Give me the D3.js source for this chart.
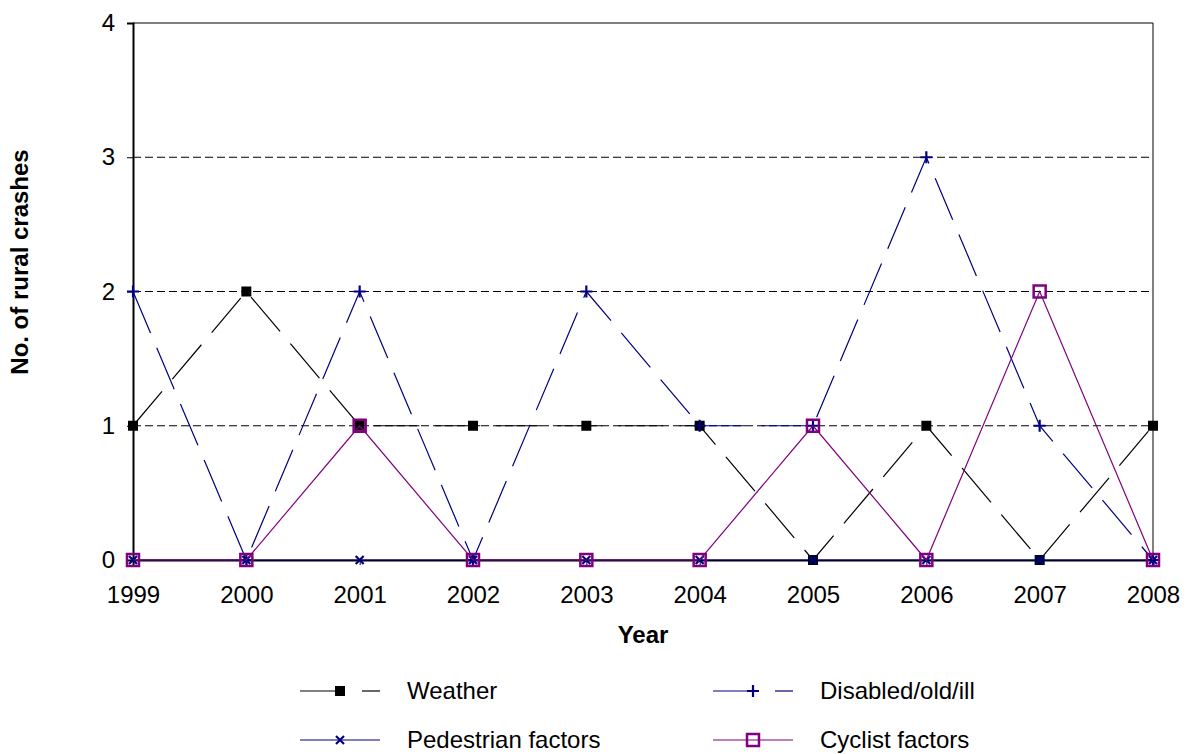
<!DOCTYPE html>
<html><head><meta charset="utf-8">
<script src="https://cdn.jsdelivr.net/npm/d3@7/dist/d3.min.js"></script>
<style>body{margin:0;background:#fff;}svg{display:block;font-family:Arial,"Liberation Sans",sans-serif;}</style>
</head><body><svg id="c" width="1187" height="754"></svg>
<script>
const years = ["1999","2000","2001","2002","2003","2004","2005","2006","2007","2008"];
const weather = [1,2,1,1,1,1,0,1,0,1];
const disabled = [2,0,2,0,2,1,1,3,1,0];
const pedestrian = [0,0,0,0,0,0,0,0,0,0];
const cyclist = [0,0,1,0,0,0,1,0,2,0];
const yTicks = [0,1,2,3,4];

const FS = 24;
const svg = d3.select("#c");
const L=133,R=1153,T=23,B=560;
const x = d3.scalePoint().domain(years).range([L,R]);
const y = d3.scaleLinear().domain([0,4]).range([B,T]);

// gridlines
svg.append("g").selectAll("line").data(yTicks.filter(d=>d>0&&d<4)).join("line")
  .attr("x1",L).attr("x2",R).attr("y1",d=>y(d)).attr("y2",d=>y(d))
  .attr("stroke","#000").attr("stroke-width",1).attr("stroke-dasharray","8,4");
// box
svg.append("line").attr("x1",L).attr("x2",R).attr("y1",T).attr("y2",T).attr("stroke","#000");
svg.append("line").attr("x1",R).attr("x2",R).attr("y1",T).attr("y2",B).attr("stroke","#000");

// axes
const yAxis = svg.append("g").attr("transform",`translate(${L},0)`)
  .call(d3.axisLeft(y).tickValues(yTicks).tickFormat(d3.format("d")).tickSize(6).tickPadding(12));
const xAxis = svg.append("g").attr("transform",`translate(0,${B})`)
  .call(d3.axisBottom(x).tickSize(5).tickPadding(21));
[yAxis,xAxis].forEach(a=>{
  a.select(".domain").attr("stroke","#000").attr("stroke-width",2);
  a.selectAll(".tick line").attr("stroke","#000");
  a.selectAll("text").attr("font-size",FS).attr("fill","#000").style("font-family","Arial, 'Liberation Sans', sans-serif");
});

svg.append("text").attr("x",643).attr("y",643).attr("text-anchor","middle")
  .attr("font-size",FS).attr("font-weight","bold").text("Year");
svg.append("text").attr("transform","translate(28,262) rotate(-90)").attr("text-anchor","middle")
  .attr("font-size",FS).attr("font-weight","bold").text("No. of rural crashes");

const series = [
  {name:"Weather",vals:weather,color:"#000",dash:"45,16",marker:"fsq"},
  {name:"Disabled/old/ill",vals:disabled,color:"#000080",dash:"45,16",marker:"plus"},
  {name:"Pedestrian factors",vals:pedestrian,color:"#000080",dash:null,marker:"x"},
  {name:"Cyclist factors",vals:cyclist,color:"#800080",dash:null,marker:"osq"}
];
const line = d3.line().x((d,i)=>x(years[i])).y(d=>y(d));

function drawMarker(g,type,cx,cy,color){
  if(type==="fsq") g.append("rect").attr("x",cx-5).attr("y",cy-5).attr("width",10).attr("height",10).attr("fill","#000");
  else if(type==="plus"){
    g.append("path").attr("d",`M${cx-6},${cy}H${cx+6}M${cx},${cy-6}V${cy+6}`).attr("stroke",color).attr("stroke-width",2.2).attr("fill","none");
  } else if(type==="x"){
    g.append("path").attr("d",`M${cx-4},${cy-4}L${cx+4},${cy+4}M${cx-4},${cy+4}L${cx+4},${cy-4}`).attr("stroke",color).attr("stroke-width",2.2).attr("fill","none");
  } else if(type==="osq"){
    g.append("rect").attr("x",cx-6).attr("y",cy-6).attr("width",12).attr("height",12).attr("fill","none").attr("stroke",color).attr("stroke-width",2.5);
  }
}

series.forEach(s=>{
  const g = svg.append("g");
  g.append("path").datum(s.vals).attr("d",line).attr("fill","none")
    .attr("stroke",s.color).attr("stroke-width",1.2)
    .attr("stroke-dasharray",s.dash);
  s.vals.forEach((v,i)=>drawMarker(g,s.marker,x(years[i]),y(v),s.color));
});

// legend
const leg = [
  {s:series[0],lx:300,ly:691},
  {s:series[1],lx:713,ly:691},
  {s:series[2],lx:300,ly:740},
  {s:series[3],lx:713,ly:740}
];
leg.forEach(o=>{
  const g=svg.append("g");
  if(o.s.dash){
    g.append("line").attr("x1",o.lx).attr("x2",o.lx+45).attr("y1",o.ly).attr("y2",o.ly).attr("stroke",o.s.color).attr("stroke-width",1.2);
    g.append("line").attr("x1",o.lx+62).attr("x2",o.lx+80).attr("y1",o.ly).attr("y2",o.ly).attr("stroke",o.s.color).attr("stroke-width",1.2);
  } else {
    g.append("line").attr("x1",o.lx).attr("x2",o.lx+80).attr("y1",o.ly).attr("y2",o.ly).attr("stroke",o.s.color).attr("stroke-width",1.2);
  }
  drawMarker(g,o.s.marker,o.lx+40,o.ly,o.s.color);
  g.append("text").attr("x",o.lx+107).attr("y",o.ly+8).attr("font-size",FS).text(o.s.name);
});
</script></body></html>
